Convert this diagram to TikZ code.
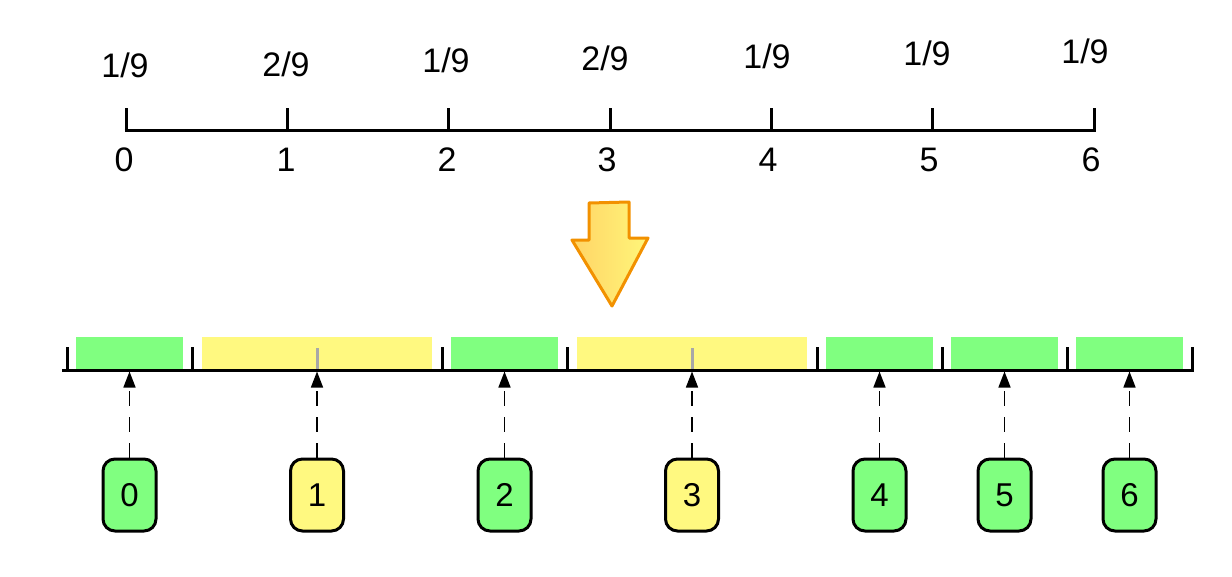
\documentclass[tikz,border=0pt]{standalone}
\usepackage{fontspec}
\setmainfont{Liberation Sans}
\usetikzlibrary{arrows.meta}
\definecolor{gfill}{HTML}{80FF80}
\definecolor{yfill}{HTML}{FFF980}
\definecolor{ostroke}{HTML}{F29100}
\definecolor{oleft}{HTML}{FFD466}
\definecolor{oright}{HTML}{FFF67A}
\definecolor{gtick}{HTML}{A8A8A8}
\begin{document}
\begin{tikzpicture}[x=1pt,y=-1pt]
\useasboundingbox (0,0) rectangle (1232,576);
\tikzset{
 lbl/.style={font=\fontsize{34}{34}\selectfont, inner sep=0pt, anchor=base},
 numbox/.style={draw=black, line width=3pt, rounded corners=12pt, minimum width=53pt, minimum height=72pt, inner sep=0pt, font=\fontsize{33}{33}\selectfont},
 gbox/.style={numbox, fill=gfill},
 ybox/.style={numbox, fill=yfill},
 axisline/.style={line width=3pt},
 tickmark/.style={line width=3pt},
 gtickmark/.style={line width=3pt, draw=gtick},
 ptr/.style={line width=1.5pt, dash pattern=on 15pt off 11pt, -{Triangle[length=16pt,width=12pt]}},
 bigarrow/.style={draw=ostroke, line width=3pt, line join=round, left color=oleft, right color=oright},
}
% ---- top axis ----
\draw[axisline] (124.5,130) -- (1095.5,130);
\foreach \x in {126,287.3,448.7,610,771.3,932.7,1094}
  \draw[tickmark] (\x,108) -- (\x,130);
\node[lbl] (p0) at (125,77) {1/9};
\node[lbl] (p1) at (286,76) {2/9};
\node[lbl] (p2) at (446,72) {1/9};
\node[lbl] (p3) at (605,70) {2/9};
\node[lbl] (p4) at (767,68) {1/9};
\node[lbl] (p5) at (927,65) {1/9};
\node[lbl] (p6) at (1085,63) {1/9};
\node[lbl] (n0) at (124,171) {0};
\node[lbl] (n1) at (286,171) {1};
\node[lbl] (n2) at (447,171) {2};
\node[lbl] (n3) at (607,171) {3};
\node[lbl] (n4) at (768,171) {4};
\node[lbl] (n5) at (929,171) {5};
\node[lbl] (n6) at (1091,171) {6};
% ---- big arrow ----
\path[bigarrow] (589,203) -- (629,202) -- (629,238) -- (648,238) -- (612,306) -- (572,240) -- (589,240) -- cycle;
% ---- bottom bar ----
\fill[gfill] (76,337) rectangle (183,368.5);
\fill[yfill] (202,337) rectangle (432,368.5);
\fill[gfill] (451,337) rectangle (558,368.5);
\fill[yfill] (577,337) rectangle (807,368.5);
\fill[gfill] (826,337) rectangle (933,368.5);
\fill[gfill] (951,337) rectangle (1058,368.5);
\fill[gfill] (1076,337) rectangle (1183,368.5);
\draw[gtickmark] (317,348) -- (317,368.5);
\draw[gtickmark] (692,348) -- (692,368.5);
\draw[axisline] (62,370) -- (1193.5,370);
\foreach \x in {67,192,442,567,817,942,1067,1192}
  \draw[tickmark] (\x,347) -- (\x,370);
% ---- boxes ----
\node[gbox] (b0) at (129.5,495) {0};
\node[ybox] (b1) at (317,495) {1};
\node[gbox] (b2) at (504.5,495) {2};
\node[ybox] (b3) at (692,495) {3};
\node[gbox] (b4) at (879.5,495) {4};
\node[gbox] (b5) at (1004.5,495) {5};
\node[gbox] (b6) at (1129.5,495) {6};
\foreach \i/\x in {0/129.5,1/317,2/504.5,3/692,4/879.5,5/1004.5,6/1129.5}{
  \coordinate (t\i) at (\x,371.5);
  \draw[ptr] (b\i.north) -- (t\i);
}
\end{tikzpicture}
\end{document}
